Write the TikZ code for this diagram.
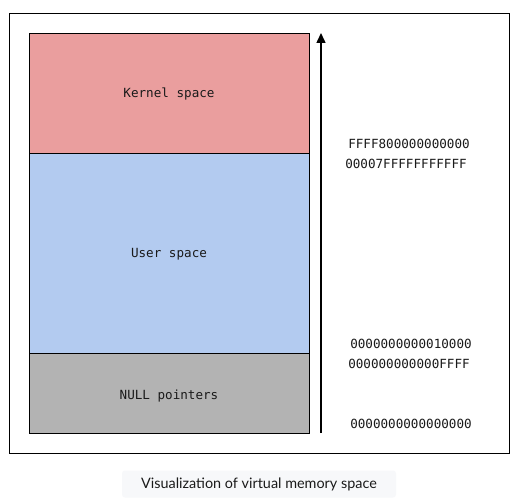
\documentclass[tikz,border=0pt]{standalone}
\usepackage{fontspec}
\setmainfont{Lato}
\newfontfamily\monof{DejaVu Sans Mono}
\usetikzlibrary{arrows.meta}
\definecolor{kern}{HTML}{EA9E9E}
\definecolor{usr}{HTML}{B3CBF0}
\definecolor{nul}{HTML}{B3B3B3}
\definecolor{capbg}{HTML}{F7F8FA}
\definecolor{txt}{HTML}{1A1A1A}
\begin{document}
\begin{tikzpicture}[x=1pt,y=-1pt,
  region/.style={draw=black,line width=0.8pt,inner sep=0pt},
  mono/.style={font=\monof\fontsize{12.6}{14}\selectfont,text=txt,inner sep=0pt,anchor=center},
  addr/.style={mono}]
\useasboundingbox (0,0) rectangle (517,503);
\fill[white] (0,0) rectangle (517,503);
\node[draw=black,line width=0.8pt,minimum width=500pt,minimum height=440pt,inner sep=0pt,anchor=north west] (frame) at (9,13) {};
\node[region,fill=kern,minimum width=280pt,minimum height=120pt,anchor=north west] (kernel) at (29,33) {};
\node[region,fill=usr,minimum width=280pt,minimum height=200pt,anchor=north west] (user) at (29,153) {};
\node[region,fill=nul,minimum width=280pt,minimum height=80pt,anchor=north west] (null) at (29,353) {};
\node[mono] (kt) at (169,94) {Kernel space};
\node[mono] (ut) at (169,254) {User space};
\node[mono] (nt) at (169,396) {NULL pointers};
\coordinate (abot) at (321,433);
\coordinate (atop) at (321,33);
\draw[line width=1.5pt,-{Triangle[length=10pt,width=9pt]}] (abot) -- (atop);
\node[addr] (a1) at (409,144) {FFFF800000000000};
\node[addr] (a2) at (406,164) {00007FFFFFFFFFFF};
\node[addr] (a3) at (411,344) {0000000000010000};
\node[addr] (a4) at (409,364) {000000000000FFFF};
\node[addr] (a5) at (411,424) {0000000000000000};
\node[fill=capbg,rounded corners=3pt,minimum width=274pt,minimum height=27pt,inner sep=0pt] (capbox) at (259,484) {};
\node[font=\fontsize{14.4}{16}\selectfont,text=txt,inner sep=0pt] (cap) at (259,484) {Visualization of virtual memory space};
\end{tikzpicture}
\end{document}
